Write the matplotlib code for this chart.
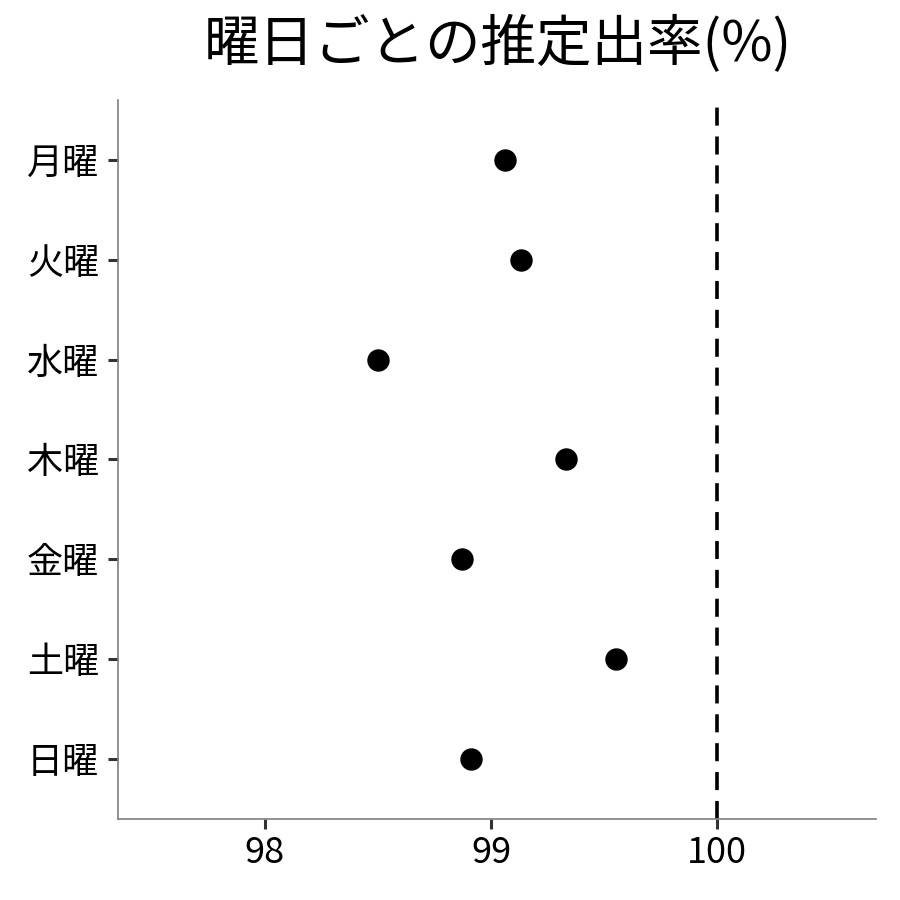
import matplotlib
matplotlib.use("Agg")
import matplotlib.pyplot as plt

plt.rcParams['font.family'] = ['Noto Sans CJK JP', 'DejaVu Sans']

days = ["月曜", "火曜", "水曜", "木曜", "金曜", "土曜", "日曜"]
rates = [99.06, 99.13, 98.50, 99.33, 98.87, 99.55, 98.91]
xticks = [98, 99, 100]
ref_line = 100

fig = plt.figure(figsize=(9, 9), dpi=100)
ax = fig.add_axes([0.131, 0.09, 0.842, 0.799])

ypos = list(range(1, len(days) + 1))
ax.scatter(rates, ypos, s=260, color="black", zorder=3, linewidths=0)
ax.axvline(ref_line, color="black", linestyle=(0, (5, 3)), linewidth=2.6)

ax.set_xlim(97.35, 100.70)
ax.set_ylim(7.6, 0.4)
ax.set_yticks(ypos)
ax.set_yticklabels(days)
ax.set_xticks(xticks)
ax.tick_params(axis="both", labelsize=26, length=7.5, width=2.2, color="#333333",
               labelcolor="black", pad=4)
ax.tick_params(axis="y", pad=6)

for side in ["top", "right"]:
    ax.spines[side].set_visible(False)
for side in ["left", "bottom"]:
    ax.spines[side].set_color("#808080")
    ax.spines[side].set_linewidth(1.2)

fig.suptitle("曜日ごとの推定出率(%)", fontsize=40, x=0.553, y=0.982)

fig.savefig("out.png", dpi=100)
